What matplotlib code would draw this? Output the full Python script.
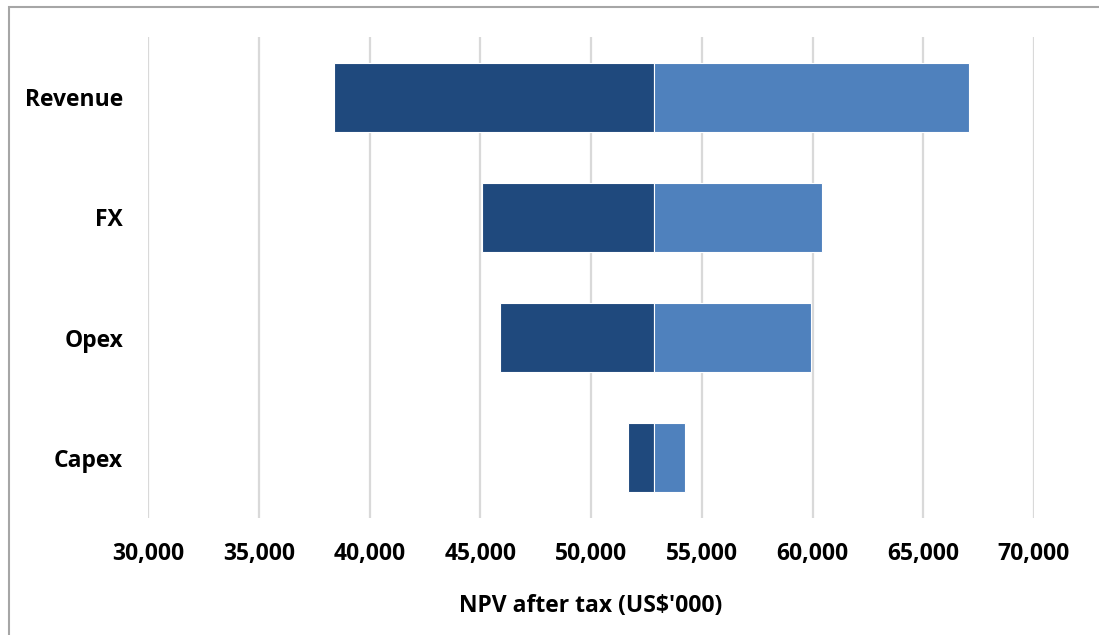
import matplotlib.pyplot as plt
from matplotlib.ticker import FuncFormatter, MultipleLocator
from matplotlib.patches import Rectangle

plt.rcParams['font.family'] = ['Open Sans', 'DejaVu Sans']

# NPV sensitivity (US$'000)
drivers = ["Revenue", "FX", "Opex", "Capex"]
base_npv = 52840
low_case = [38400, 45080, 45900, 51670]
high_case = [67070, 60430, 59930, 54240]

dark_blue = "#1F497D"
light_blue = "#4F81BD"

fig = plt.figure(figsize=(10.99, 6.35), dpi=100)
ax = fig.add_axes([148 / 1099, 117 / 635, 886 / 1099, 481 / 635])

y = list(range(len(drivers)))
ax.barh(y, [base_npv - v for v in low_case], left=low_case, height=0.575,
        color=dark_blue, edgecolor="white", linewidth=0.8, zorder=3)
ax.barh(y, [v - base_npv for v in high_case], left=base_npv, height=0.575,
        color=light_blue, edgecolor="white", linewidth=0.8, zorder=3)

ax.set_xlim(30000, 70000)
ax.set_ylim(len(drivers) - 0.5, -0.5)
ax.xaxis.set_major_locator(MultipleLocator(5000))
ax.xaxis.set_major_formatter(FuncFormatter(lambda v, p: f"{int(v):,}"))
ax.set_yticks(y)
ax.set_yticklabels(drivers)

ax.grid(axis="x", color="#d9d9d9", linewidth=1.6, zorder=0)
for s in ax.spines.values():
    s.set_visible(False)
ax.tick_params(axis="both", length=0, labelsize=16.5)
ax.tick_params(axis="x", pad=17.5)
ax.tick_params(axis="y", pad=18)
for lbl in ax.get_xticklabels() + ax.get_yticklabels():
    lbl.set_fontweight("bold")

ax.set_xlabel("NPV after tax (US$'000)", fontsize=16.5, fontweight="bold", labelpad=20)

# outer chart frame
fig.patches.append(Rectangle((8.5 / 1099, -0.1), 1.2, 628 / 635 + 0.1,
                             transform=fig.transFigure, fill=False,
                             edgecolor="#a6a6a6", linewidth=1.5))

fig.savefig("out.png", dpi=100)
